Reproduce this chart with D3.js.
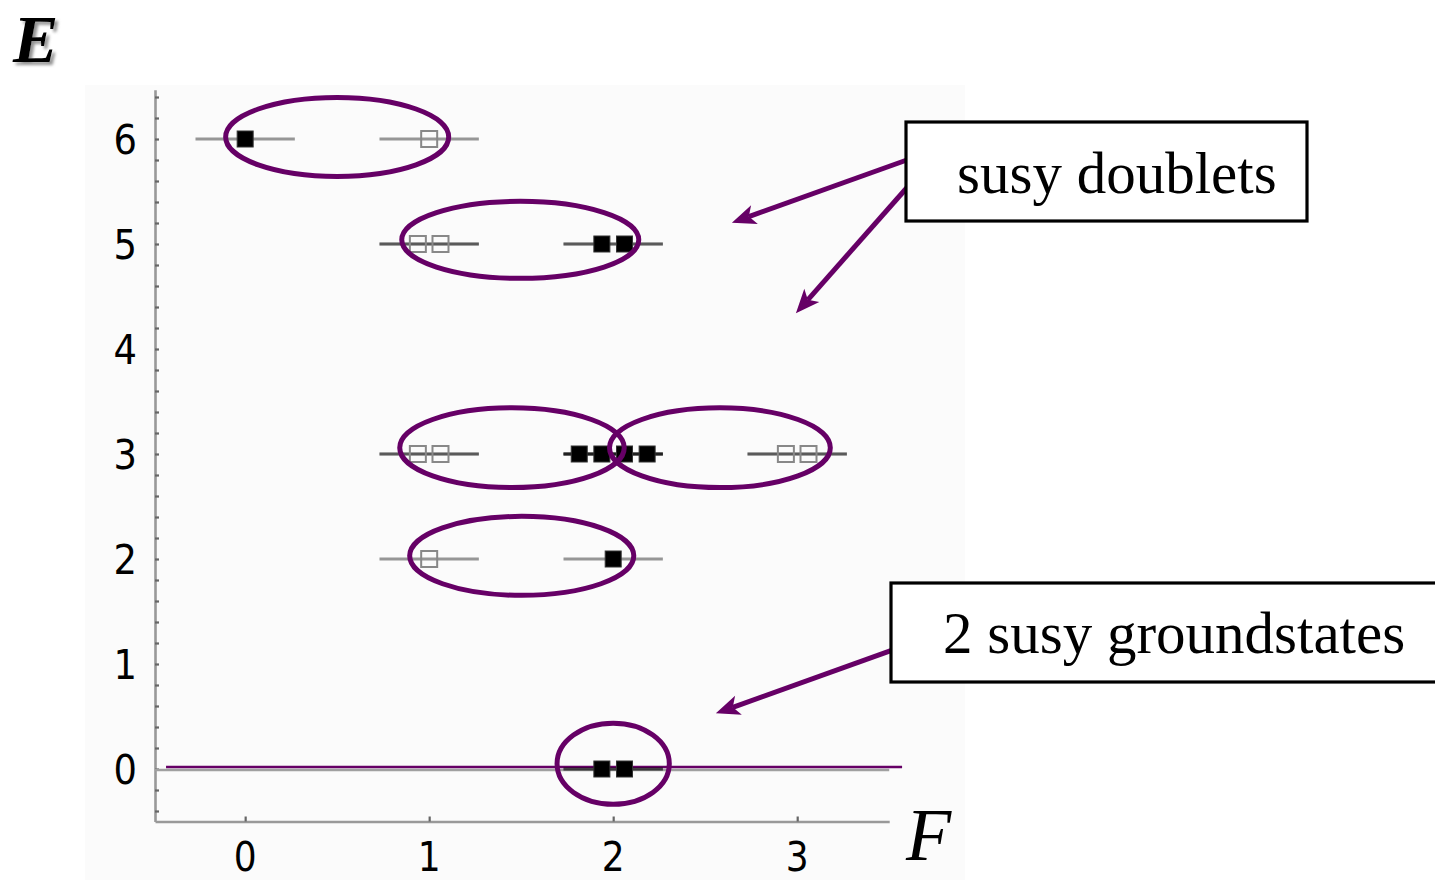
<!DOCTYPE html>
<html>
<head>
<meta charset="utf-8">
<script src="https://cdn.jsdelivr.net/npm/d3@7"></script>
<style>
  html, body { margin: 0; padding: 0; background: #fff; }
  svg { display: block; }
</style>
</head>
<body>
<svg id="chart" width="1435" height="880"></svg>
<script>
// Spectrum: energy E and fermion number F of every state
const stateE = [6, 6, 5, 5, 5, 5, 3, 3, 3, 3, 3, 3, 3, 3, 2, 2, 0, 0];
const stateF = [0, 1, 1, 1, 2, 2, 1, 1, 2, 2, 2, 2, 3, 3, 1, 2, 2, 2];

// Axis tick labels
const xTicks = [0, 1, 2, 3];
const yTicks = [0, 1, 2, 3, 4, 5, 6];

// Rings around the supersymmetric doublets (centre F, centre E, radius along F, radius along E)
const ringF  = [0.5,   1.495, 1.45, 2.58, 1.503, 2.0];
const ringE  = [6.02,  5.04,  3.06, 3.06, 2.03,  0.05];
const ringRF = [0.606, 0.644, 0.61, 0.60, 0.609, 0.305];
const ringRE = [0.376, 0.367, 0.38, 0.38, 0.376, 0.386];

// Zero-energy marker line (F from, F to, E)
const groundLineF = [-0.43, 3.57];
const groundLineE = 0.02;

// Callout arrows, in (F, E) units: tail and head
const arrowTail = [[3.596, 5.80], [3.596, 5.536], [3.509, 1.127]];
const arrowHead = [[2.645, 5.203], [2.993, 4.340], [2.558, 0.530]];

// Callout labels
const calloutText = ["susy doublets", "2 susy groundstates"];

const purple = "#660066";
const tickFont = "'DejaVu Sans Condensed', 'Liberation Sans Narrow', 'DejaVu Sans', sans-serif";
const svg = d3.select("#chart");

const x = d3.scaleLinear().domain([-0.49, 3.5]).range([155, 889.2]);
const y = d3.scaleLinear().domain([-0.5, 6.47]).range([821.5, 89.65]);

// drop shadow for the E label
const defs = svg.append("defs");
const f = defs.append("filter").attr("id", "shadow")
  .attr("x", "-20%").attr("y", "-20%").attr("width", "160%").attr("height", "160%");
f.append("feDropShadow").attr("dx", 3).attr("dy", 3).attr("stdDeviation", 1.6)
  .attr("flood-color", "#777").attr("flood-opacity", 0.8);

// faint plot panel
svg.append("rect").attr("x", 85).attr("y", 85).attr("width", 880).attr("height", 795)
  .attr("fill", "#fbfbfb");

// axes
const yAxis = d3.axisLeft(y)
  .tickValues(d3.range(-2, 33).map(i => i / 5))
  .tickSizeInner(-4).tickSizeOuter(0).tickFormat("");
const gy = svg.append("g").attr("transform", `translate(${x.range()[0]},0)`).call(yAxis);

const xAxis = d3.axisBottom(x)
  .tickValues(xTicks).tickSizeInner(-5).tickSizeOuter(0).tickFormat("");
const gx = svg.append("g").attr("transform", `translate(0,${y.range()[0]})`).call(xAxis);

[gx, gy].forEach(g => {
  g.select(".domain").attr("stroke", "#999").attr("stroke-width", 2.6);
  g.selectAll(".tick line").attr("stroke", "#666").attr("stroke-width", 2.2);
});

// tick labels
svg.append("g").selectAll("text").data(yTicks).join("text")
  .attr("x", 137).attr("y", d => y(d) + 15)
  .attr("text-anchor", "end")
  .attr("font-family", tickFont).attr("font-stretch", "condensed")
  .attr("font-size", 41).attr("fill", "#000")
  .text(d => d);
svg.append("g").selectAll("text").data(xTicks).join("text")
  .attr("x", d => x(d)).attr("y", 871)
  .attr("text-anchor", "middle")
  .attr("font-family", tickFont).attr("font-stretch", "condensed")
  .attr("font-size", 40).attr("fill", "#000")
  .text(d => d);

// E = 0 reference line
svg.append("line")
  .attr("x1", x.range()[0]).attr("x2", x.range()[1])
  .attr("y1", y(0) + 1).attr("y2", y(0) + 1)
  .attr("stroke", "#a0a0a0").attr("stroke-width", 2.5);

// zero-energy marker line
svg.append("line")
  .attr("x1", x(groundLineF[0])).attr("x2", x(groundLineF[1]))
  .attr("y1", y(groundLineE)).attr("y2", y(groundLineE))
  .attr("stroke", purple).attr("stroke-width", 2.5);

// states: group by (E, F) to spread degenerate ones side by side
const states = stateE.map((e, i) => ({ E: e, F: stateF[i] }));
const groups = d3.group(states, d => d.E + "|" + d.F);
states.forEach(s => {
  const g = groups.get(s.E + "|" + s.F);
  s.k = g.indexOf(s);
  s.n = g.length;
});

// level segments (overlapping ones darken)
svg.append("g").selectAll("line").data(states).join("line")
  .attr("x1", d => x(d.F - 0.27)).attr("x2", d => x(d.F + 0.27))
  .attr("y1", d => y(d.E)).attr("y2", d => y(d.E))
  .attr("stroke", "#000").attr("stroke-opacity", 0.4).attr("stroke-width", 3);

// markers: filled for even F, open for odd F
const sq = 16;
svg.append("g").selectAll("rect").data(states).join("rect")
  .attr("x", d => x(d.F + (d.k - (d.n - 1) / 2) * 0.123) - sq / 2)
  .attr("y", d => y(d.E) - sq / 2)
  .attr("width", sq).attr("height", sq)
  .attr("fill", d => d.F % 2 === 0 ? "#000" : "none")
  .attr("stroke", d => d.F % 2 === 0 ? "#333" : "#888")
  .attr("stroke-width", d => d.F % 2 === 0 ? 1 : 2);

// rings
const x0 = x(0), y0 = y(0);
svg.append("g").selectAll("ellipse").data(ringF).join("ellipse")
  .attr("cx", d => x(d))
  .attr("cy", (d, i) => y(ringE[i]))
  .attr("rx", (d, i) => x(ringRF[i]) - x0)
  .attr("ry", (d, i) => y0 - y(ringRE[i]))
  .attr("fill", "none").attr("stroke", purple).attr("stroke-width", 5);

// arrows
const headLen = 24, headHalf = 10, notch = 6;
arrowTail.forEach((t, i) => {
  const x1 = x(t[0]), y1 = y(t[1]);
  const x2 = x(arrowHead[i][0]), y2 = y(arrowHead[i][1]);
  const dx = x2 - x1, dy = y2 - y1, L = Math.hypot(dx, dy);
  const ux = dx / L, uy = dy / L, nx = -uy, ny = ux;
  const bx = x2 - ux * headLen, by = y2 - uy * headLen;
  svg.append("line")
    .attr("x1", x1).attr("y1", y1)
    .attr("x2", bx + ux * notch).attr("y2", by + uy * notch)
    .attr("stroke", purple).attr("stroke-width", 5);
  const pts = [
    [x2, y2],
    [bx + nx * headHalf, by + ny * headHalf],
    [bx + ux * notch, by + uy * notch],
    [bx - nx * headHalf, by - ny * headHalf]
  ];
  svg.append("polygon").attr("points", pts.map(p => p.join(",")).join(" "))
    .attr("fill", purple);
});

// callout boxes
const boxes = [
  { x: 906, y: 122, w: 401, h: 99, tx: 957, ty: 193 },
  { x: 891, y: 583, w: 600, h: 99, tx: 943, ty: 653 }
];
boxes.forEach((b, i) => {
  svg.append("rect").attr("x", b.x).attr("y", b.y).attr("width", b.w).attr("height", b.h)
    .attr("fill", "#fff").attr("stroke", "#000").attr("stroke-width", 3.2);
  svg.append("text").attr("x", b.tx).attr("y", b.ty)
    .attr("font-family", "'Liberation Serif', 'DejaVu Serif', serif")
    .attr("font-size", 59).attr("fill", "#000")
    .text(calloutText[i]);
});

// axis titles
svg.append("text").attr("x", 13).attr("y", 62)
  .attr("font-family", "'Liberation Serif', serif")
  .attr("font-style", "italic").attr("font-weight", "bold")
  .attr("font-size", 68).attr("filter", "url(#shadow)")
  .text("E");
svg.append("text").attr("x", 906).attr("y", 860)
  .attr("font-family", "'Liberation Serif', serif")
  .attr("font-style", "italic")
  .attr("font-size", 74)
  .text("F");
</script>
</body>
</html>
